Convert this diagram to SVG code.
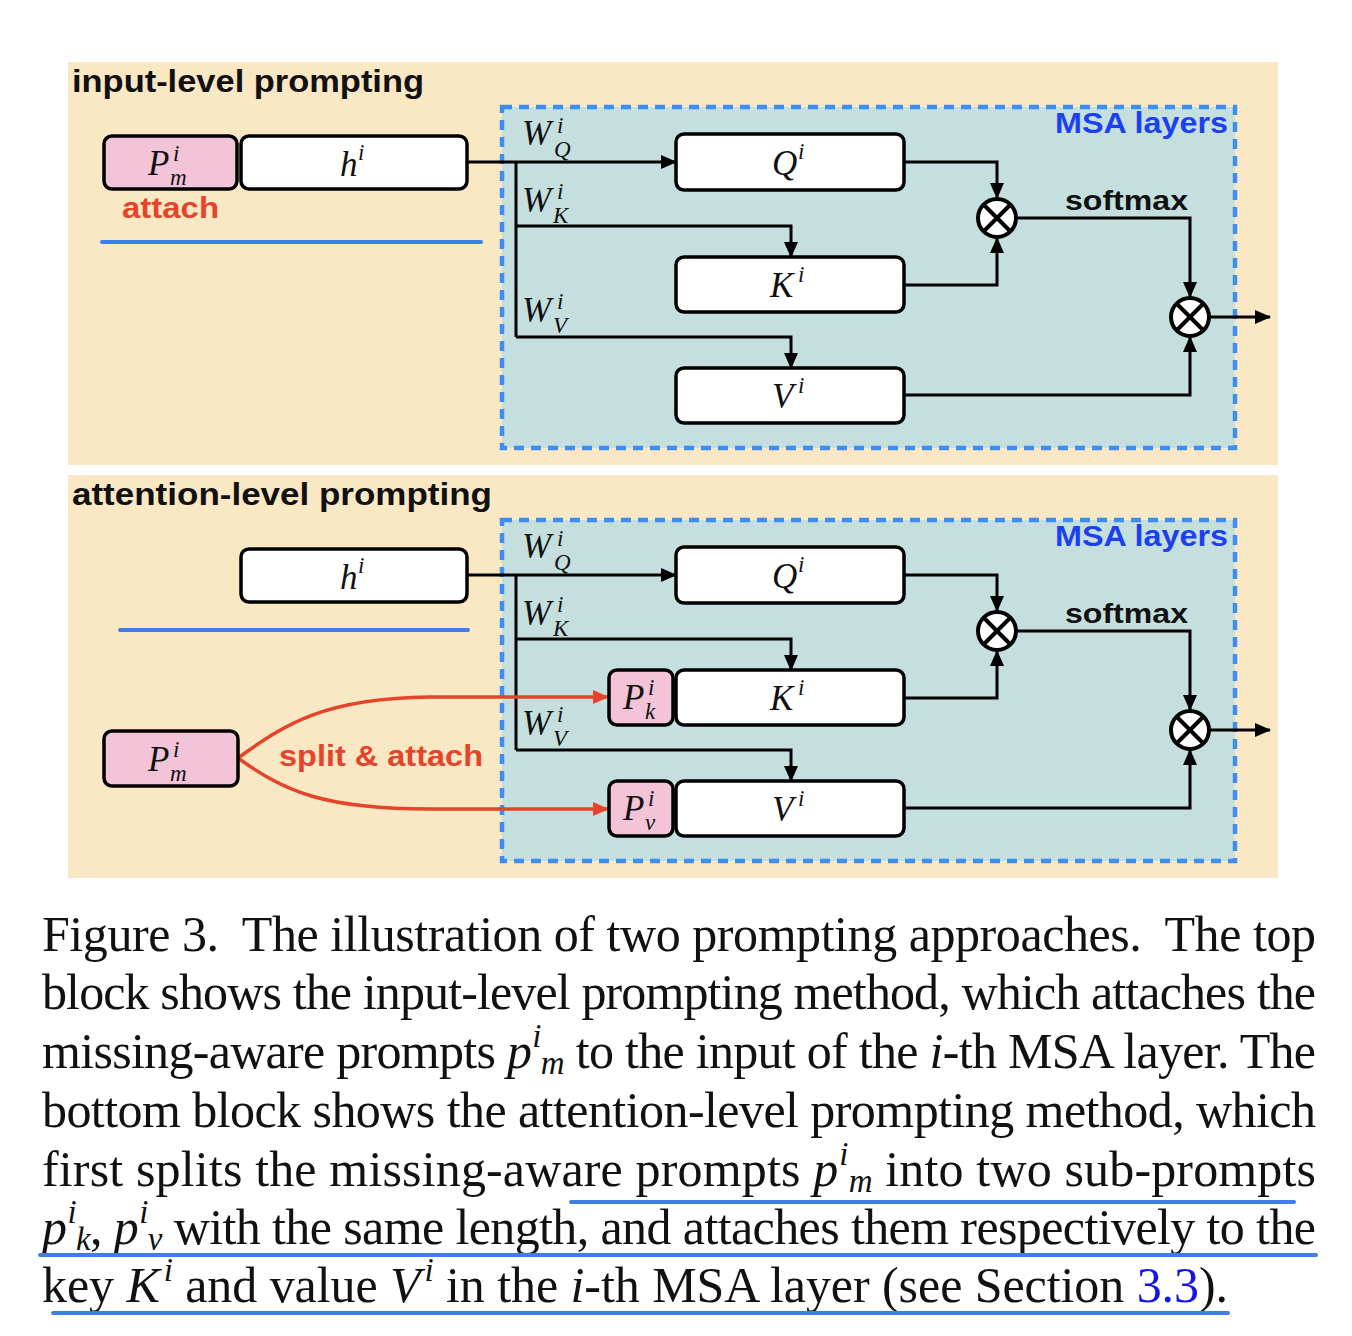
<svg xmlns="http://www.w3.org/2000/svg" width="1352" height="1336" viewBox="0 0 1352 1336">
<style>
.bg{fill:#ffffff}
.panel{fill:#FAE7C3}
.msa{fill:#C4DFDD;stroke:#3D8EF0;stroke-width:4.5;stroke-dasharray:10 7}
.box{fill:#ffffff;stroke:#000;stroke-width:3.5}
.pink{fill:#F3C3D7;stroke:#000;stroke-width:3.5}
.conn{fill:none;stroke:#000;stroke-width:3}
.red{fill:none;stroke:#E5442A;stroke-width:3.5}
.ring{fill:#ffffff;stroke:#000;stroke-width:4}
.xl{stroke:#000;stroke-width:4}
.anno{stroke:#3D7EE8;stroke-width:4;stroke-linecap:round;fill:none}
.lbl{font-family:"Liberation Sans",Arial,sans-serif;font-weight:bold}
.title{font-size:31px;fill:#111}
.msat{font-size:30px;fill:#1C3FEF}
.soft{font-size:28px;fill:#111}
.redt{font-size:29px;fill:#E5442A}
.math{font-family:"Liberation Serif","Times New Roman",serif;font-style:italic;font-size:35px;fill:#111}
.ms{font-size:23px}
.cap{font-family:"Liberation Serif","Times New Roman",serif;font-size:50px;fill:#111}
.ci{font-style:italic}
.cs{font-size:33px;font-style:italic}
</style>
<defs>
<marker id="ah" viewBox="0 0 16 14" refX="15" refY="7" markerWidth="16" markerHeight="14" markerUnits="userSpaceOnUse" orient="auto"><path d="M0,0 L16,7 L0,14 z" fill="#000"/></marker>
<marker id="ahr" viewBox="0 0 16 14" refX="15" refY="7" markerWidth="16" markerHeight="14" markerUnits="userSpaceOnUse" orient="auto"><path d="M0,0 L16,7 L0,14 z" fill="#E5442A"/></marker>
</defs>
<rect class="bg" x="0" y="0" width="1352" height="1336"/>

<g id="panel-top">
<rect class="panel" x="68" y="62" width="1210" height="403"/>
<text class="lbl title" x="72" y="92" textLength="352" lengthAdjust="spacingAndGlyphs">input-level prompting</text>
<rect class="msa" x="502" y="107" width="733" height="341"/>
<text class="lbl msat" x="1055" y="133" textLength="173" lengthAdjust="spacingAndGlyphs">MSA layers</text>
<line class="anno" x1="102" y1="242" x2="481" y2="242"/>
</g>
<g id="panel-bottom">
<rect class="panel" x="68" y="475" width="1210" height="403"/>
<text class="lbl title" x="72" y="505" textLength="420" lengthAdjust="spacingAndGlyphs">attention-level prompting</text>
<rect class="msa" x="502" y="520" width="733" height="341"/>
<text class="lbl msat" x="1055" y="546" textLength="173" lengthAdjust="spacingAndGlyphs">MSA layers</text>
<line class="anno" x1="120" y1="630" x2="468" y2="630"/>
</g>

<g id="connectors">
<path class="conn" d="M467 162 H676" marker-end="url(#ah)"/>
<path class="conn" d="M516 162 V337"/>
<path class="conn" d="M516 226 H791 V257" marker-end="url(#ah)"/>
<path class="conn" d="M516 337 H791 V368" marker-end="url(#ah)"/>
<path class="conn" d="M904 162 H997 V198" marker-end="url(#ah)"/>
<path class="conn" d="M904 285 H997 V238" marker-end="url(#ah)"/>
<path class="conn" d="M1017 218 H1190 V297" marker-end="url(#ah)"/>
<path class="conn" d="M904 395 H1190 V337" marker-end="url(#ah)"/>
<path class="conn" d="M1210 317 H1270" marker-end="url(#ah)"/>

<path class="conn" d="M467 575 H676" marker-end="url(#ah)"/>
<path class="conn" d="M516 575 V750"/>
<path class="conn" d="M516 639 H791 V670" marker-end="url(#ah)"/>
<path class="conn" d="M516 750 H791 V781" marker-end="url(#ah)"/>
<path class="conn" d="M904 575 H997 V611" marker-end="url(#ah)"/>
<path class="conn" d="M904 698 H997 V651" marker-end="url(#ah)"/>
<path class="conn" d="M1017 631 H1190 V710" marker-end="url(#ah)"/>
<path class="conn" d="M904 808 H1190 V750" marker-end="url(#ah)"/>
<path class="conn" d="M1210 730 H1270" marker-end="url(#ah)"/>

<path class="red" d="M238 758 C285 724 325 698 430 697 L608 697" marker-end="url(#ahr)"/>
<path class="red" d="M238 758 C285 792 325 809 430 809 L608 809" marker-end="url(#ahr)"/>
</g>

<g id="top-pm">
<rect class="pink" x="104" y="136" width="133" height="53" rx="8"/>
<text class="math" x="148" y="175">P<tspan class="ms" x="173" y="161">i</tspan><tspan class="ms" x="170" y="185">m</tspan></text>
</g>
<text class="lbl redt" x="122" y="218" textLength="97" lengthAdjust="spacingAndGlyphs">attach</text>
<g id="top-h">
<rect class="box" x="241" y="136" width="226" height="53" rx="8"/>
<text class="math" x="340" y="176">h<tspan class="ms" x="358" y="160">i</tspan></text>
</g>
<g id="top-wlabels">
<text class="math" x="522" y="145">W<tspan class="ms" x="557" y="133">i</tspan><tspan class="ms" x="554" y="157">Q</tspan></text>
<text class="math" x="522" y="212">W<tspan class="ms" x="557" y="199">i</tspan><tspan class="ms" x="553" y="223">K</tspan></text>
<text class="math" x="522" y="322">W<tspan class="ms" x="557" y="309">i</tspan><tspan class="ms" x="553" y="333">V</tspan></text>
</g>
<g id="top-q">
<rect class="box" x="676" y="134" width="228" height="56" rx="8"/>
<text class="math" x="772" y="175">Q<tspan class="ms" x="798" y="159">i</tspan></text>
</g>
<g id="top-k">
<rect class="box" x="676" y="257" width="228" height="55" rx="8"/>
<text class="math" x="770" y="297">K<tspan class="ms" x="798" y="282">i</tspan></text>
</g>
<g id="top-v">
<rect class="box" x="676" y="368" width="228" height="55" rx="8"/>
<text class="math" x="772" y="408">V<tspan class="ms" x="798" y="393">i</tspan></text>
</g>
<g id="top-mul1">
<circle class="ring" cx="997" cy="218" r="19"/>
<path class="xl" d="M983.5 204.5 L1010.5 231.5 M1010.5 204.5 L983.5 231.5"/>
</g>
<text class="lbl soft" x="1065" y="210" textLength="123" lengthAdjust="spacingAndGlyphs">softmax</text>
<g id="top-mul2">
<circle class="ring" cx="1190" cy="317" r="19"/>
<path class="xl" d="M1176.5 303.5 L1203.5 330.5 M1203.5 303.5 L1176.5 330.5"/>
</g>

<g id="bot-h">
<rect class="box" x="241" y="549" width="226" height="53" rx="8"/>
<text class="math" x="340" y="589">h<tspan class="ms" x="358" y="573">i</tspan></text>
</g>
<g id="bot-pm">
<rect class="pink" x="104" y="731" width="134" height="55" rx="8"/>
<text class="math" x="148" y="771">P<tspan class="ms" x="173" y="757">i</tspan><tspan class="ms" x="170" y="781">m</tspan></text>
</g>
<text class="lbl redt" x="279" y="766" textLength="204" lengthAdjust="spacingAndGlyphs">split &amp; attach</text>
<g id="bot-wlabels">
<text class="math" x="522" y="558">W<tspan class="ms" x="557" y="546">i</tspan><tspan class="ms" x="554" y="570">Q</tspan></text>
<text class="math" x="522" y="625">W<tspan class="ms" x="557" y="612">i</tspan><tspan class="ms" x="553" y="636">K</tspan></text>
<text class="math" x="522" y="735">W<tspan class="ms" x="557" y="722">i</tspan><tspan class="ms" x="553" y="746">V</tspan></text>
</g>
<g id="bot-q">
<rect class="box" x="676" y="547" width="228" height="56" rx="8"/>
<text class="math" x="772" y="588">Q<tspan class="ms" x="798" y="572">i</tspan></text>
</g>
<g id="bot-pk">
<rect class="pink" x="609" y="670" width="64" height="55" rx="8"/>
<text class="math" x="623" y="709">P<tspan class="ms" x="648" y="695">i</tspan><tspan class="ms" x="645" y="719">k</tspan></text>
</g>
<g id="bot-k">
<rect class="box" x="676" y="670" width="228" height="55" rx="8"/>
<text class="math" x="770" y="710">K<tspan class="ms" x="798" y="695">i</tspan></text>
</g>
<g id="bot-pv">
<rect class="pink" x="609" y="781" width="64" height="55" rx="8"/>
<text class="math" x="623" y="820">P<tspan class="ms" x="648" y="806">i</tspan><tspan class="ms" x="645" y="830">v</tspan></text>
</g>
<g id="bot-v">
<rect class="box" x="676" y="781" width="228" height="55" rx="8"/>
<text class="math" x="772" y="821">V<tspan class="ms" x="798" y="806">i</tspan></text>
</g>
<g id="bot-mul1">
<circle class="ring" cx="997" cy="631" r="19"/>
<path class="xl" d="M983.5 617.5 L1010.5 644.5 M1010.5 617.5 L983.5 644.5"/>
</g>
<text class="lbl soft" x="1065" y="623" textLength="123" lengthAdjust="spacingAndGlyphs">softmax</text>
<g id="bot-mul2">
<circle class="ring" cx="1190" cy="730" r="19"/>
<path class="xl" d="M1176.5 716.5 L1203.5 743.5 M1203.5 716.5 L1176.5 743.5"/>
</g>

<g id="caption">
<text class="cap" x="42" y="951" textLength="1274" lengthAdjust="spacing">Figure 3.&#160; The illustration of two prompting approaches.&#160; The top</text>
<text class="cap" x="42" y="1009" textLength="1274" lengthAdjust="spacing">block shows the input-level prompting method, which attaches the</text>
<text class="cap" x="42" y="1068" textLength="1274" lengthAdjust="spacing">missing-aware prompts <tspan class="ci">p</tspan><tspan class="cs" dy="-21" dx="1">i</tspan><tspan class="cs" dx="0" dy="27">m</tspan><tspan dy="-6"> to the input of the </tspan><tspan class="ci">i</tspan>-th MSA layer. The</text>
<text class="cap" x="42" y="1127" textLength="1274" lengthAdjust="spacing">bottom block shows the attention-level prompting method, which</text>
<text class="cap" x="42" y="1186" textLength="1274" lengthAdjust="spacing">first splits the missing-aware prompts <tspan class="ci">p</tspan><tspan class="cs" dy="-21" dx="1">i</tspan><tspan class="cs" dx="0" dy="27">m</tspan><tspan dy="-6"> into two sub-prompts</tspan></text>
<text class="cap" x="42" y="1244" textLength="1274" lengthAdjust="spacing"><tspan class="ci">p</tspan><tspan class="cs" dy="-21" dx="1">i</tspan><tspan class="cs" dx="0" dy="27">k</tspan><tspan dy="-6">, </tspan><tspan class="ci">p</tspan><tspan class="cs" dy="-21" dx="1">i</tspan><tspan class="cs" dx="0" dy="27">v</tspan><tspan dy="-6"> with the same length, and attaches them respectively to the</tspan></text>
<text class="cap" x="42" y="1302" textLength="1186" lengthAdjust="spacing">key <tspan class="ci">K</tspan><tspan class="cs" dy="-21" dx="4">i</tspan><tspan dy="21"> and value </tspan><tspan class="ci">V</tspan><tspan class="cs" dy="-21" dx="4">i</tspan><tspan dy="21"> in the </tspan><tspan class="ci">i</tspan>-th MSA layer (see Section <tspan fill="#1414E6">3.3</tspan>).</text>
<line class="anno" x1="571" y1="1202" x2="1294" y2="1202"/>
<line class="anno" x1="40" y1="1255" x2="1316" y2="1255"/>
<line class="anno" x1="53" y1="1313" x2="1228" y2="1313"/>
</g>
</svg>
